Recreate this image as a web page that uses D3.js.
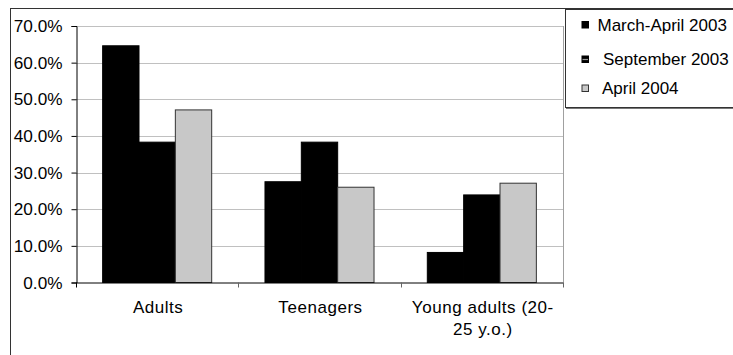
<!DOCTYPE html>
<html>
<head>
<meta charset="utf-8">
<script src="https://cdn.jsdelivr.net/npm/d3@7"></script>
<style>
  html, body { margin: 0; padding: 0; background: #fff; }
  svg { display: block; font-family: "Liberation Sans", Arial, sans-serif; }
</style>
</head>
<body>
<svg id="chart" width="733" height="355"></svg>
<script>
const categories = ["Adults", "Teenagers", "Young adults (20-25 y.o.)"];
const categoryLines = [["Adults"], ["Teenagers"], ["Young adults (20-", "25 y.o.)"]];
const seriesNames = ["March-April 2003", "September 2003", "April 2004"];
const marchApril2003 = [0.646, 0.275, 0.082];
const september2003 = [0.383, 0.383, 0.239];
const april2004 = [0.471, 0.260, 0.271];
const yTicks = [0, 0.1, 0.2, 0.3, 0.4, 0.5, 0.6, 0.7];

const seriesValues = [marchApril2003, september2003, april2004];
const fills = ["#000000", "#000000", "#c8c8c8"];
const strokes = ["#000000", "#000000", "#333333"];

const svg = d3.select("#chart");

// outer chart frame
svg.append("rect").attr("x", 10.5).attr("y", 8.5).attr("width", 740).attr("height", 360)
  .attr("fill", "none").attr("stroke", "#333").attr("stroke-width", 1);

const plot = { left: 76, right: 563, top: 26, bottom: 282.5 };

const x = d3.scaleBand().domain(categories).range([plot.left, plot.right]).paddingInner(0).paddingOuter(0);
const xs = d3.scaleBand().domain(seriesNames).range([0, x.bandwidth()]).paddingInner(0).paddingOuter(0.733);
const y = d3.scaleLinear().domain([0, 0.7]).range([plot.bottom, plot.top]);

// gridlines
svg.append("g").selectAll("line").data(yTicks.filter(d => d > 0)).join("line")
  .attr("x1", plot.left).attr("x2", plot.right)
  .attr("y1", d => Math.round(y(d)) + 0.5).attr("y2", d => Math.round(y(d)) + 0.5)
  .attr("stroke", "#c0c0c0").attr("stroke-width", 1);

// right border of plot area
svg.append("line").attr("x1", plot.right + 0.5).attr("x2", plot.right + 0.5)
  .attr("y1", y(0.7)).attr("y2", plot.bottom).attr("stroke", "#a0a0a0");

// bars
seriesValues.forEach((vals, si) => {
  svg.append("g").selectAll("rect").data(categories).join("rect")
    .attr("x", c => x(c) + xs(seriesNames[si]))
    .attr("y", (c, i) => y(vals[i]))
    .attr("width", xs.bandwidth())
    .attr("height", (c, i) => y(0) - y(vals[i]))
    .attr("fill", fills[si]).attr("stroke", strokes[si]).attr("stroke-width", 1);
});

// y axis
const yAxis = svg.append("g").attr("transform", `translate(${plot.left + 0.5},0)`)
  .call(d3.axisLeft(y).tickValues(yTicks).tickFormat(d3.format(".1%")).tickSize(5).tickPadding(9));
yAxis.attr("font-size", null).attr("font-family", null);
yAxis.select(".domain").attr("stroke", "#000");
yAxis.selectAll(".tick line").attr("stroke", "#000");
yAxis.selectAll(".tick text").style("font-size", "17.2px").attr("fill", "#000");

// x axis
const xAxis = svg.append("g").attr("transform", `translate(0,${plot.bottom})`)
  .call(d3.axisBottom(x).tickValues([]).tickSizeOuter(0));
xAxis.select(".domain").attr("stroke", "#000");
const tickPos = [plot.left, ...categories.slice(1).map(c => x(c)), plot.right];
xAxis.selectAll("line.sep").data(tickPos).join("line").attr("class", "sep")
  .attr("x1", d => Math.round(d) + 0.5).attr("x2", d => Math.round(d) + 0.5)
  .attr("y1", 0).attr("y2", 5).attr("stroke", (d, i) => i === 0 ? "#000" : "#666");

// category labels
const lbl = svg.append("g");
categories.forEach((c, i) => {
  const cx = x(c) + x.bandwidth() / 2 + 1;
  const t = lbl.append("text").attr("text-anchor", "middle")
    .style("font-size", "17px").style("letter-spacing", "0.55px").attr("fill", "#000")
    .attr("x", cx).attr("y", 312.5);
  categoryLines[i].forEach((line, li) => {
    t.append("tspan").attr("x", cx).attr("dy", li === 0 ? 0 : 22).text(line);
  });
});

// legend
const lg = svg.append("g");
lg.append("rect").attr("x", 565.5).attr("y", 9.5).attr("width", 200).attr("height", 98)
  .attr("fill", "#fff").attr("stroke", "#333").attr("stroke-width", 1);
lg.append("line").attr("x1", 566).attr("x2", 740).attr("y1", 108.5).attr("y2", 108.5).attr("stroke", "#777");
const legendY = [30.5, 65, 94];
const legendTextX = [597.5, 603, 602];
seriesNames.forEach((s, i) => {
  const my = legendY[i] - 9;
  lg.append("rect").attr("x", 582).attr("y", my).attr("width", 6.5).attr("height", 6.5)
    .attr("fill", fills[i]).attr("stroke", strokes[i]).attr("stroke-width", 1);
  if (i === 1) {
    lg.append("line").attr("x1", 582.5).attr("x2", 588).attr("y1", my + 3.5).attr("y2", my + 3.5)
      .attr("stroke", "#999").attr("stroke-width", 1.2);
  }
  lg.append("text").attr("x", legendTextX[i]).attr("y", legendY[i])
    .style("font-size", "17px").attr("fill", "#000").text(s);
});
</script>
</body>
</html>
